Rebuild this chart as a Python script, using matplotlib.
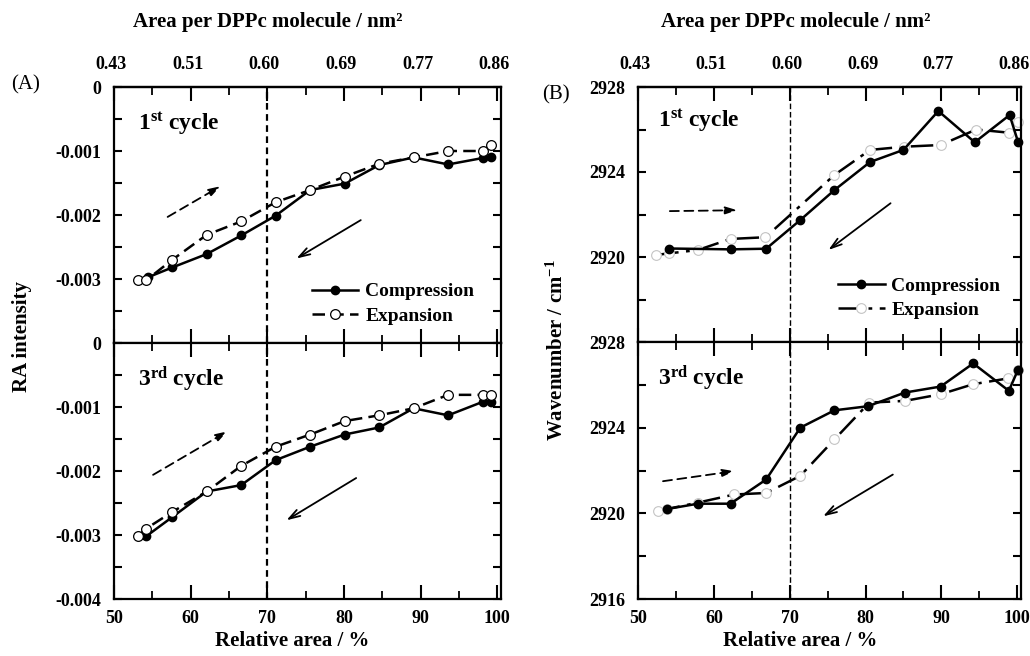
import matplotlib
matplotlib.use("Agg")
import matplotlib.pyplot as plt
from matplotlib.ticker import MultipleLocator, FixedLocator
from matplotlib.transforms import ScaledTranslation

plt.rcParams['font.family'] = ['Liberation Serif', 'DejaVu Serif']
plt.rcParams['font.weight'] = 'bold'
plt.rcParams['mathtext.fontset'] = 'custom'
plt.rcParams['mathtext.rm'] = 'Liberation Serif:bold'
plt.rcParams['mathtext.bf'] = 'Liberation Serif:bold'
plt.rcParams['mathtext.it'] = 'Liberation Serif:bold'
plt.rcParams['axes.unicode_minus'] = False

# ---------------- data ----------------
x_ticks = [50, 60, 70, 80, 90, 100]
area_labels = ['0.43', '0.51', '0.60', '0.69', '0.77', '0.86']

# (A) RA intensity, 1st cycle
ra1_comp_x = [54.5, 57.6, 62.1, 66.6, 71.1, 75.6, 80.1, 84.6, 89.1, 93.6, 98.1, 99.2]
ra1_comp_y = [-0.00297, -0.00282, -0.00261, -0.00232, -0.00201, -0.00161, -0.00151,
              -0.00122, -0.00110, -0.00121, -0.00111, -0.00110]
ra1_exp_x = [53.1, 54.2, 57.6, 62.1, 66.6, 71.1, 75.6, 80.1, 84.6, 89.1, 93.6, 98.1, 99.2]
ra1_exp_y = [-0.00302, -0.00302, -0.00270, -0.00231, -0.00210, -0.00180, -0.00161,
             -0.00140, -0.00120, -0.00110, -0.00100, -0.00100, -0.00090]

# (A) RA intensity, 3rd cycle
ra3_comp_x = [54.2, 57.6, 62.1, 66.6, 71.1, 75.6, 80.1, 84.6, 89.1, 93.6, 98.1, 99.2]
ra3_comp_y = [-0.00302, -0.00272, -0.00232, -0.00222, -0.00183, -0.00162, -0.00143,
              -0.00132, -0.00102, -0.00113, -0.00092, -0.00092]
ra3_exp_x = [53.1, 54.2, 57.6, 62.1, 66.6, 71.1, 75.6, 80.1, 84.6, 89.1, 93.6, 98.1, 99.2]
ra3_exp_y = [-0.00302, -0.00290, -0.00264, -0.00232, -0.00192, -0.00162, -0.00143,
             -0.00122, -0.00113, -0.00102, -0.00081, -0.00081, -0.00081]

# (B) Wavenumber, 1st cycle
wn1_comp_x = [54.1, 62.2, 66.9, 71.4, 75.9, 80.6, 85.0, 89.6, 94.4, 99.0, 100.1]
wn1_comp_y = [2920.40, 2920.36, 2920.39, 2921.74, 2923.15, 2924.47, 2925.04,
              2926.87, 2925.40, 2926.68, 2925.43]
wn1_exp_x = [52.4, 54.1, 57.9, 62.2, 66.8, 75.9, 80.6, 85.1, 89.9, 94.6, 98.9, 100.1]
wn1_exp_y = [2920.10, 2920.17, 2920.33, 2920.85, 2920.93, 2923.86, 2925.04, 2925.19,
             2925.27, 2926.00, 2925.85, 2926.37]

# (B) Wavenumber, 3rd cycle
wn3_comp_x = [53.8, 57.9, 62.2, 66.9, 71.4, 75.9, 80.3, 85.2, 89.9, 94.2, 98.9, 100.1]
wn3_comp_y = [2920.20, 2920.45, 2920.45, 2921.58, 2924.00, 2924.81, 2925.00, 2925.64,
              2925.92, 2927.00, 2925.72, 2926.70]
wn3_exp_x = [52.6, 53.8, 57.9, 62.7, 66.9, 71.4, 75.9, 80.5, 85.2, 89.9, 94.2, 98.8, 100.1]
wn3_exp_y = [2920.10, 2920.20, 2920.50, 2920.88, 2920.95, 2921.75, 2923.45, 2925.17,
             2925.25, 2925.56, 2926.03, 2926.30, 2926.70]

# arrows: (x_start, y_start, x_end, y_end)
ra1_arrows = [(57.0, -0.00203, 63.9, -0.00155), (82.2, -0.00208, 73.8, -0.00268)]
ra3_arrows = [(55.1, -0.00206, 64.8, -0.00138), (81.6, -0.00211, 72.5, -0.00277)]
wn1_arrows = [(54.2, 2922.16, 63.1, 2922.20), (83.3, 2922.53, 75.1, 2920.33)]
wn3_arrows = [(53.3, 2921.50, 62.7, 2921.97), (83.6, 2921.81, 74.4, 2919.86)]

# ---------------- figure ----------------
W, H = 1030, 656
fig = plt.figure(figsize=(W / 100, H / 100), dpi=100)

def rect(x0, x1, ytop, ybot):
    return [x0 / W, 1 - ybot / H, (x1 - x0) / W, (ybot - ytop) / H]

axA1 = fig.add_axes(rect(114, 501, 87, 343))
axA3 = fig.add_axes(rect(114, 501, 343, 599))
axB1 = fig.add_axes(rect(638, 1021, 87, 342))
axB3 = fig.add_axes(rect(638, 1021, 342, 599))

TICKFS = 13
LW_SPINE = 1.6
shift = ScaledTranslation(-3 / 100, 0, fig.dpi_scale_trans)

def style(ax, ylim, ymajor, yminor, ylabels, top, bottom_labels):
    ax.set_xlim(50, 100.5)
    ax.set_ylim(*ylim)
    ax.xaxis.set_major_locator(FixedLocator(x_ticks))
    ax.xaxis.set_minor_locator(MultipleLocator(5))
    ax.set_yticks(ymajor)
    ax.set_yticklabels(ylabels)
    ax.yaxis.set_minor_locator(MultipleLocator(yminor))
    for s in ax.spines.values():
        s.set_linewidth(LW_SPINE)
    ax.tick_params(axis='x', which='major', direction='in', length=10, width=1.5,
                   top=True, bottom=True, labelsize=TICKFS, pad=8)
    ax.tick_params(axis='x', which='minor', direction='in', length=5.5, width=1.3,
                   top=True, bottom=True)
    ax.tick_params(axis='y', which='both', direction='in', length=5.5, width=1.5,
                   left=True, right=True, labelsize=TICKFS, pad=9)
    if bottom_labels:
        ax.set_xticklabels([str(v) for v in x_ticks])
    else:
        ax.tick_params(axis='x', labelbottom=False)
    if top:
        sec = ax.secondary_xaxis('top')
        sec.set_xticks(x_ticks, labels=area_labels)
        sec.tick_params(length=0, labelsize=TICKFS, pad=10)
        sec.spines['top'].set_linewidth(LW_SPINE)
        for lab in sec.get_xticklabels():
            lab.set_fontweight('bold')
            lab.set_transform(lab.get_transform() + shift)
    for lab in ax.get_xticklabels() + ax.get_yticklabels():
        lab.set_fontweight('bold')

def arrows(ax, arrs):
    (x0, y0, x1, y1), (a0, b0, a1, b1) = arrs
    ax.annotate('', xy=(x1, y1), xytext=(x0, y0),
                arrowprops=dict(arrowstyle='-|>,head_length=0.7,head_width=0.22',
                                linestyle=(0, (5, 3)), lw=1.3, color='black',
                                shrinkA=0, shrinkB=0))
    ax.annotate('', xy=(a1, b1), xytext=(a0, b0),
                arrowprops=dict(arrowstyle='->,head_length=0.8,head_width=0.25',
                                lw=1.3, color='black', shrinkA=0, shrinkB=0))

# ---- panel A ----
ra_major = [0, -0.001, -0.002, -0.003, -0.004]
style(axA1, (-0.004, 0), ra_major, 0.0005, ['0', '-0.001', '-0.002', '-0.003', ''],
      True, False)
style(axA3, (-0.004, 0), ra_major, 0.0005, ['0', '-0.001', '-0.002', '-0.003', '-0.004'],
      False, True)

for ax, cx, cy, ex, ey, arr, lab in [
        (axA1, ra1_comp_x, ra1_comp_y, ra1_exp_x, ra1_exp_y, ra1_arrows, '1$^{\\rm st}$ cycle'),
        (axA3, ra3_comp_x, ra3_comp_y, ra3_exp_x, ra3_exp_y, ra3_arrows, '3$^{\\rm rd}$ cycle')]:
    ax.axvline(70, color='black', lw=1.6, ls=(0, (3, 2)))
    lc, = ax.plot(cx, cy, '-', color='black', lw=1.8, marker='o', ms=6,
                  mfc='black', mec='black', label='Compression', clip_on=False)
    le, = ax.plot(ex, ey, color='black', lw=1.8, ls=(0, (5, 2.5)), marker='o', ms=7,
                  mfc='white', mec='black', mew=0.9, label='Expansion', clip_on=False)
    arrows(ax, arr)
    ax.text(53.1, -0.00057, lab, fontsize=17, fontweight='bold', va='center', ha='left')
    if ax is axA1:
        ax.legend(handles=[lc, le], loc='upper left', bbox_to_anchor=(0.511, 0.235),
                  frameon=False, handlelength=2.4, handletextpad=0.35,
                  labelspacing=0.35, borderpad=0, borderaxespad=0,
                  prop={'weight': 'bold', 'size': 14})

# ---- panel B ----
wn_major = [2916, 2920, 2924, 2928]
style(axB1, (2916, 2928), wn_major, 2, ['', '2920', '2924', '2928'], True, False)
style(axB3, (2916, 2928), wn_major, 2, ['2916', '2920', '2924', '2928'], False, True)

for ax, cx, cy, ex, ey, arr, lab, ty in [
        (axB1, wn1_comp_x, wn1_comp_y, wn1_exp_x, wn1_exp_y, wn1_arrows, '1$^{\\rm st}$ cycle', 2926.4),
        (axB3, wn3_comp_x, wn3_comp_y, wn3_exp_x, wn3_exp_y, wn3_arrows, '3$^{\\rm rd}$ cycle', 2926.3)]:
    ax.axvline(70, color='black', lw=1.0, ls=(0, (4, 2)))
    le, = ax.plot(ex, ey, color='black', lw=1.8, ls=(0, (9, 3, 1.5, 3)), marker='o', ms=7,
                  mfc='white', mec='#c4c4c4', mew=0.8, label='Expansion', clip_on=False)
    lc, = ax.plot(cx, cy, '-', color='black', lw=1.8, marker='o', ms=6,
                  mfc='black', mec='black', label='Compression', clip_on=False)
    arrows(ax, arr)
    ax.text(52.7, ty, lab, fontsize=17, fontweight='bold', va='center', ha='left')
    if ax is axB1:
        ax.legend(handles=[lc, le], loc='upper left', bbox_to_anchor=(0.522, 0.255),
                  frameon=False, handlelength=2.4, handletextpad=0.35,
                  labelspacing=0.35, borderpad=0, borderaxespad=0,
                  prop={'weight': 'bold', 'size': 14})

# ---- labels ----
def ftext(x, y, s, **kw):
    fig.text(x / W, 1 - y / H, s, ha='center', va='center', **kw)

ftext(268, 22, 'Area per DPPc molecule / nm²', fontsize=15, fontweight='bold')
ftext(796, 22, 'Area per DPPc molecule / nm²', fontsize=15, fontweight='bold')
ftext(292, 641, 'Relative area / %', fontsize=15, fontweight='bold')
ftext(800, 641, 'Relative area / %', fontsize=15, fontweight='bold')
ftext(22, 337, 'RA intensity', fontsize=15, fontweight='bold', rotation=90)
ftext(557, 350, 'Wavenumber / cm$^{-1}$', fontsize=15, fontweight='bold', rotation=90)
ftext(26, 85, '(A)', fontsize=15, fontweight='normal')
ftext(556, 95, '(B)', fontsize=15, fontweight='normal')

fig.savefig('out.png', dpi=100)
